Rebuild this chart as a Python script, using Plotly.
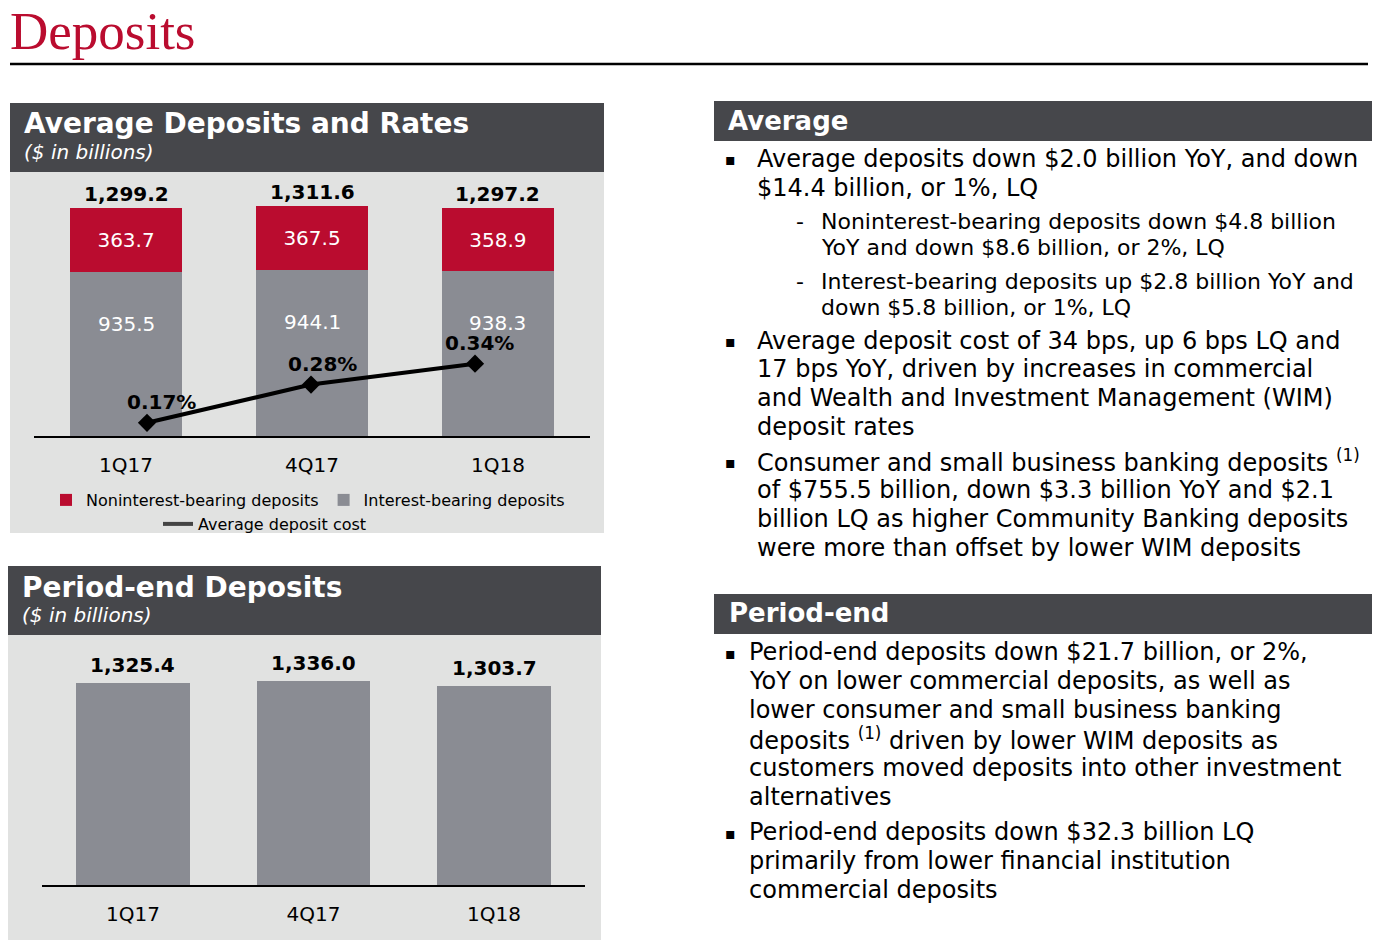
import plotly.graph_objects as go

W, H = 1374, 943

# ---- data ----
quarters = ["1Q17", "4Q17", "1Q18"]
noninterest = [363.7, 367.5, 358.9]
interest = [935.5, 944.1, 938.3]
deposit_cost = [0.17, 0.28, 0.34]
period_end = [1325.4, 1336.0, 1303.7]

avg_lines = [
    ("b", "Average deposits down $2.0 billion YoY, and down"),
    ("c", "$14.4 billion, or 1%, LQ"),
    ("s", "Noninterest-bearing deposits down $4.8 billion"),
    ("sc", "YoY and down $8.6 billion, or 2%, LQ"),
    ("s", "Interest-bearing deposits up $2.8 billion YoY and"),
    ("sc", "down $5.8 billion, or 1%, LQ"),
    ("b", "Average deposit cost of 34 bps, up 6 bps LQ and"),
    ("c", "17 bps YoY, driven by increases in commercial"),
    ("c", "and Wealth and Investment Management (WIM)"),
    ("c", "deposit rates"),
    ("b", "Consumer and small business banking deposits <sup>(1)</sup>"),
    ("c", "of $755.5 billion, down $3.3 billion YoY and $2.1"),
    ("c", "billion LQ as higher Community Banking deposits"),
    ("c", "were more than offset by lower WIM deposits"),
]
avg_y = [159, 188, 222, 248, 281, 307, 341, 369, 398, 427, 461, 490, 519, 548]

pe_lines = [
    ("b", "Period-end deposits down $21.7 billion, or 2%,"),
    ("c", "YoY on lower commercial deposits, as well as"),
    ("c", "lower consumer and small business banking"),
    ("c", "deposits <sup>(1)</sup> driven by lower WIM deposits as"),
    ("c", "customers moved deposits into other investment"),
    ("c", "alternatives"),
    ("b", "Period-end deposits down $32.3 billion LQ"),
    ("c", "primarily from lower financial institution"),
    ("c", "commercial deposits"),
]
pe_y = [652, 681, 710, 739, 768, 797, 832, 861, 890]


def px(x):
    return x / W


def py(y):
    return 1 - y / H


FONT = "DejaVu Sans, Verdana, sans-serif"
RED = "#BA0C2F"
GRAY = "#8A8C93"
PANEL = "#E1E2E1"
HEAD = "#46474B"

fig = go.Figure()

fig.add_trace(go.Bar(
    x=quarters, y=interest, name="Interest-bearing deposits",
    marker=dict(color=GRAY, line=dict(width=0)), width=0.6, legendrank=2,
    xaxis="x", yaxis="y"))
fig.add_trace(go.Bar(
    x=quarters, y=noninterest, name="Noninterest-bearing deposits",
    marker=dict(color=RED, line=dict(width=0)), width=0.6, legendrank=1,
    text=[f"{v:.1f}" for v in noninterest], textposition="inside",
    insidetextanchor="middle", textangle=0, constraintext="none",
    textfont=dict(color="white", size=20, family=FONT),
    xaxis="x", yaxis="y"))
fig.add_trace(go.Scatter(
    x=quarters, y=deposit_cost, mode="lines+markers",
    line=dict(color="black", width=4),
    marker=dict(symbol="diamond", size=14, color="black"),
    xaxis="x2", yaxis="y2", showlegend=False, name="Average deposit cost"))
fig.add_trace(go.Scatter(
    x=[None], y=[None], mode="lines", line=dict(color="#444444", width=4),
    name="Average deposit cost", xaxis="x2", yaxis="y2", legend="legend2"))
fig.add_trace(go.Bar(
    x=quarters, y=period_end, marker=dict(color=GRAY, line=dict(width=0)),
    width=0.63, xaxis="x3", yaxis="y3", showlegend=False,
    name="Period-end deposits"))

shapes = [
    dict(type="line", xref="paper", yref="paper", x0=px(10), x1=px(1368),
         y0=py(64), y1=py(64), line=dict(color="black", width=2.5)),
    # left panels
    dict(type="rect", xref="paper", yref="paper", x0=px(10), x1=px(604),
         y0=py(172), y1=py(533), fillcolor=PANEL, line=dict(width=0), layer="below"),
    dict(type="rect", xref="paper", yref="paper", x0=px(10), x1=px(604),
         y0=py(103), y1=py(172), fillcolor=HEAD, line=dict(width=0), layer="below"),
    dict(type="rect", xref="paper", yref="paper", x0=px(8), x1=px(601),
         y0=py(635), y1=py(940), fillcolor=PANEL, line=dict(width=0), layer="below"),
    dict(type="rect", xref="paper", yref="paper", x0=px(8), x1=px(601),
         y0=py(566), y1=py(635), fillcolor=HEAD, line=dict(width=0), layer="below"),
    # right headers
    dict(type="rect", xref="paper", yref="paper", x0=px(714), x1=px(1372),
         y0=py(101), y1=py(141), fillcolor=HEAD, line=dict(width=0), layer="below"),
    dict(type="rect", xref="paper", yref="paper", x0=px(714), x1=px(1372),
         y0=py(594), y1=py(634), fillcolor=HEAD, line=dict(width=0), layer="below"),
]

ann = []


def text(x, y, t, size, color="black", bold=False, italic=False, family=FONT):
    if bold:
        t = f"<b>{t}</b>"
    if italic:
        t = f"<i>{t}</i>"
    ann.append(dict(xref="paper", yref="paper", x=px(x), y=py(y), text=t,
                    showarrow=False, xanchor="left", yanchor="middle",
                    font=dict(size=size, color=color, family=family)))


# title
text(8, 31, "Deposits", 53, color=RED, family="Liberation Serif, serif")
# left headers
text(22, 124, "Average Deposits and Rates", 28, color="white", bold=True)
text(22, 152, "($ in billions)", 20, color="white", italic=True)
text(20, 587, "Period-end Deposits", 28, color="white", bold=True)
text(20, 615, "($ in billions)", 20, color="white", italic=True)
# right headers
text(726, 121, "Average", 26, color="white", bold=True)
text(727, 613, "Period-end", 26, color="white", bold=True)

for (kind, t), yy in zip(avg_lines, avg_y):
    if kind in ("b", "c"):
        if kind == "b":
            text(723, yy + 1, "▪", 16)
        text(755, yy, t, 24)
    else:
        if kind == "s":
            text(794, yy, "-", 22)
        text(819, yy, t, 22)

for (kind, t), yy in zip(pe_lines, pe_y):
    if kind == "b":
        text(723, yy + 1, "▪", 16)
    text(747, yy, t, 24)

# chart 1 data labels
for q, ib, ni in zip(quarters, interest, noninterest):
    tot = ib + ni
    ann.append(dict(xref="x", yref="y", x=q, y=tot, text=f"<b>{tot:,.1f}</b>",
                    showarrow=False, yanchor="bottom", yshift=0,
                    font=dict(size=20, color="black", family=FONT)))
    ann.append(dict(xref="x", yref="y", x=q, y=ib, text=f"{ib:.1f}",
                    showarrow=False, yanchor="middle", yshift=-52,
                    font=dict(size=20, color="white", family=FONT)))
pct_xshift = [14, 11, 4]
for q, c, xs in zip(quarters, deposit_cost, pct_xshift):
    ann.append(dict(xref="x2", yref="y2", x=q, y=c, text=f"<b>{c:.2f}%</b>",
                    showarrow=False, yanchor="bottom", yshift=7, xshift=xs,
                    font=dict(size=20, color="black", family=FONT)))
for q, v in zip(quarters, period_end):
    ann.append(dict(xref="x3", yref="y3", x=q, y=v, text=f"<b>{v:,.1f}</b>",
                    showarrow=False, yanchor="bottom", yshift=4,
                    font=dict(size=20, color="black", family=FONT)))

xcommon = dict(showgrid=False, zeroline=False, showline=True, linecolor="black",
               linewidth=1.5, ticks="outside", ticklen=10,
               tickcolor="rgba(0,0,0,0)",
               tickfont=dict(size=20, color="black", family=FONT))

fig.update_layout(
    width=W, height=H,
    margin=dict(l=0, r=0, t=0, b=0),
    paper_bgcolor="white", plot_bgcolor="rgba(0,0,0,0)",
    barmode="stack", bargap=0.4,
    xaxis=dict(domain=[px(34), px(590)], range=[-0.495, 2.495], anchor="y", **xcommon),
    yaxis=dict(domain=[py(436), py(180)], range=[0, 1458.7], visible=False, anchor="x"),
    xaxis2=dict(overlaying="x", range=[-0.689, 2.701], visible=False, anchor="y2"),
    yaxis2=dict(overlaying="y", range=[0.1321, 0.8677], visible=False, anchor="x2"),
    xaxis3=dict(domain=[px(42), px(585)], range=[-0.504, 2.504], anchor="y3", **xcommon),
    yaxis3=dict(domain=[py(885), py(660)], range=[0, 1476], visible=False, anchor="x3"),
    legend=dict(orientation="h", x=px(46), y=py(500), xanchor="left", yanchor="middle",
                font=dict(size=16, color="black", family=FONT),
                bgcolor="rgba(0,0,0,0)", traceorder="normal", itemwidth=30),
    legend2=dict(orientation="h", x=px(158), y=py(524), xanchor="left", yanchor="middle",
                 font=dict(size=16, color="black", family=FONT),
                 bgcolor="rgba(0,0,0,0)", itemwidth=30),
    shapes=shapes,
    annotations=ann,
    showlegend=True,
)

fig.write_html(
    "out.html",
    config={"displayModeBar": False},
    post_script="document.body.style.margin='0';document.body.style.overflow='hidden';",
)
